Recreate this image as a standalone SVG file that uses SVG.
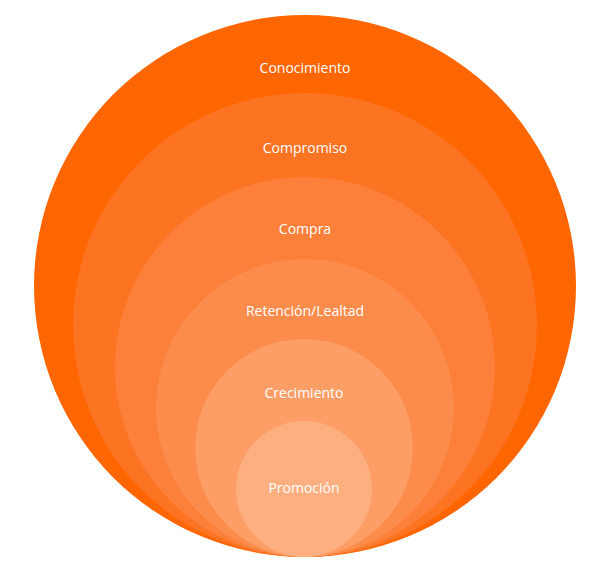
<svg xmlns="http://www.w3.org/2000/svg" width="600" height="573" viewBox="0 0 600 573">
<style>text{font-family:"Open Sans","Liberation Sans",sans-serif;font-size:14px;fill:#fff;text-anchor:middle}</style>
<rect width="600" height="573" fill="#fff"/>
<g id="n1"><circle cx="305" cy="286" r="271" fill="#FF6600"/><text x="305" y="73">Conocimiento</text></g>
<g id="n2"><circle cx="305" cy="325" r="232" fill="#FC7322"/><text x="305" y="153">Compromiso</text></g>
<g id="n3"><circle cx="305" cy="367" r="190" fill="#FC8039"/><text x="305" y="234">Compra</text></g>
<g id="n4"><circle cx="305" cy="408" r="149" fill="#FC8C4C"/><text x="305" y="316">Retención/Lealtad</text></g>
<g id="n5"><circle cx="304" cy="448" r="109" fill="#FD9E67"/><text x="304" y="398">Crecimiento</text></g>
<g id="n6"><circle cx="304" cy="489" r="68" fill="#FDAF80"/><text x="304" y="493">Promoción</text></g>
<g id="connectors"/>
</svg>
